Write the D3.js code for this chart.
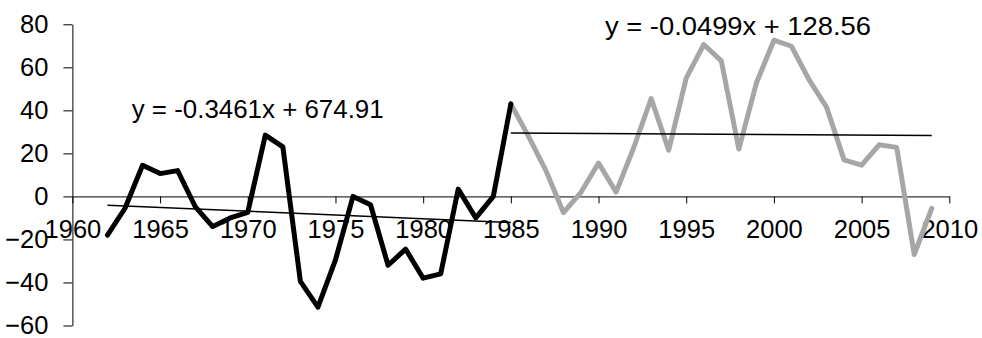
<!DOCTYPE html>
<html>
<head>
<meta charset="utf-8">
<script src="https://cdn.jsdelivr.net/npm/d3@7/dist/d3.min.js"></script>
<style>
  html, body { margin: 0; padding: 0; background: #fff; }
  svg { display: block; font-family: "Liberation Sans", Arial, sans-serif; }
</style>
</head>
<body>
<svg id="chart" width="982" height="338"></svg>
<script>
// Period 1: 1962–1985 (black), period 2: 1985–2009 (grey)
const years1 = [1962, 1963, 1964, 1965, 1966, 1967, 1968, 1969, 1970, 1971, 1972, 1973,
                1974, 1975, 1976, 1977, 1978, 1979, 1980, 1981, 1982, 1983, 1984, 1985];
const values1 = [-18, -5.5, 14.5, 10.6, 12, -4.7, -14, -10, -7.4, 28.5, 23, -39.5,
                 -51.5, -29.5, 0, -3.9, -32, -24.5, -38, -36, 3.4, -10, 0, 43];

const years2 = [1985, 1986, 1987, 1988, 1989, 1990, 1991, 1992, 1993, 1994, 1995, 1996, 1997,
                1998, 1999, 2000, 2001, 2002, 2003, 2004, 2005, 2006, 2007, 2008, 2009];
const values2 = [43, 28, 12, -7.5, 1.9, 15.5, 2, 22.5, 45.5, 21.5, 55, 70.6, 63,
                 22, 52.7, 72.6, 69.8, 54.3, 41.5, 17, 14.5, 24, 22.8, -27, -5.5];

// Linear trend fits: [slope, intercept]
const trend1 = [-0.3461, 674.91];
const trend2 = [-0.0499, 128.56];
const trendLabels = ["y = -0.3461x + 674.91", "y = -0.0499x + 128.56"];

const xTicks = [1960, 1965, 1970, 1975, 1980, 1985, 1990, 1995, 2000, 2005, 2010];
const yTicks = [-60, -40, -20, 0, 20, 40, 60, 80];

const svg = d3.select("#chart");
const x = d3.scaleLinear().domain([1960, 2010]).range([72.4, 949.3]);
const y = d3.scaleLinear().domain([-60, 80]).range([325.5, 24.3]);

const FONT = "25.5px";

// Y axis
const gy = svg.append("g")
  .attr("transform", `translate(${x(1960)},0)`)
  .call(d3.axisLeft(y).tickValues(yTicks).tickSize(9).tickSizeOuter(0).tickPadding(15)
        .tickFormat(d3.format("d")));
gy.selectAll("path, line").attr("stroke", "#000").attr("stroke-width", 1);
gy.selectAll("text").attr("font-size", FONT).attr("fill", "#000")
  .attr("font-family", "Liberation Sans, Arial, sans-serif");

// X axis along zero
const gx = svg.append("g")
  .attr("transform", `translate(0,${y(0)})`)
  .call(d3.axisBottom(x).tickValues(xTicks).tickSize(7).tickSizeOuter(0).tickPadding(16)
        .tickFormat(d3.format("d")));
gx.selectAll("path, line").attr("stroke", "#000").attr("stroke-width", 1);
gx.selectAll("text").attr("font-size", FONT).attr("fill", "#000")
  .attr("font-family", "Liberation Sans, Arial, sans-serif");

const line = d3.line().x(d => x(d[0])).y(d => y(d[1]));

svg.append("path")
  .datum(d3.zip(years2, values2))
  .attr("d", line)
  .attr("fill", "none").attr("stroke", "#a6a6a6").attr("stroke-width", 5)
  .attr("stroke-linejoin", "round").attr("stroke-linecap", "round");

svg.append("path")
  .datum(d3.zip(years1, values1))
  .attr("d", line)
  .attr("fill", "none").attr("stroke", "#000").attr("stroke-width", 5)
  .attr("stroke-linejoin", "round").attr("stroke-linecap", "round");

// Trend lines over each period
function trendPts(years, coef) {
  const a = d3.min(years), b = d3.max(years);
  return [[a, coef[0] * a + coef[1]], [b, coef[0] * b + coef[1]]];
}
svg.append("path").datum(trendPts(years1, trend1)).attr("d", line)
  .attr("fill", "none").attr("stroke", "#000").attr("stroke-width", 1.5);
svg.append("path").datum(trendPts(years2, trend2)).attr("d", line)
  .attr("fill", "none").attr("stroke", "#000").attr("stroke-width", 1.5);

// Trend equations
svg.append("text").attr("x", 131.7).attr("y", 118.3)
  .attr("font-size", FONT).attr("fill", "#000")
  .attr("textLength", 252).attr("lengthAdjust", "spacingAndGlyphs")
  .text(trendLabels[0]);
svg.append("text").attr("x", 605).attr("y", 35)
  .attr("font-size", FONT).attr("fill", "#000")
  .attr("textLength", 266).attr("lengthAdjust", "spacingAndGlyphs")
  .text(trendLabels[1]);
</script>
</body>
</html>
